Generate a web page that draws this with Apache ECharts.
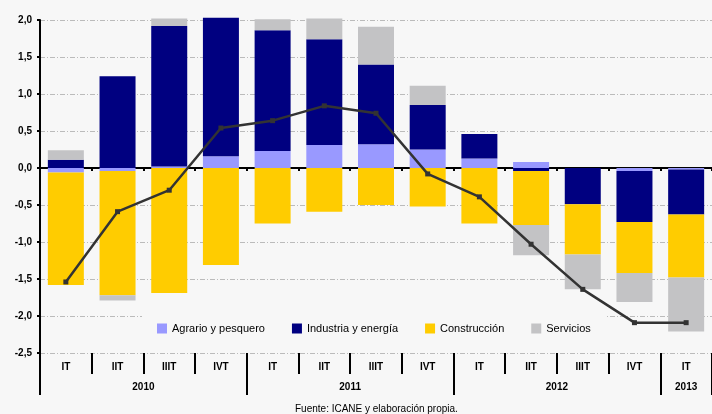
<!DOCTYPE html>
<html><head><meta charset="utf-8">
<script src="https://cdn.jsdelivr.net/npm/echarts@6/dist/echarts.min.js"></script>
<style>html,body{margin:0;padding:0;background:#f7f7f7}#c{width:712px;height:414px}</style>
</head><body><div id="c"></div>
<script>
const quarters = ['IT','IIT','IIIT','IVT','IT','IIT','IIIT','IVT','IT','IIT','IIIT','IVT','IT'];
const years = ['2010','2011','2012','2013'];
const yearSpans = [4,4,4,1];
const agrario      = [-0.06,-0.04, 0.02, 0.16, 0.23, 0.31, 0.32, 0.25, 0.13, 0.08, 0.00,-0.04,-0.02];
const industria    = [ 0.11, 1.24, 1.90, 1.87, 1.63, 1.43, 1.08, 0.60, 0.33,-0.04,-0.49,-0.69,-0.61];
const construccion = [-1.52,-1.68,-1.69,-1.31,-0.75,-0.59,-0.50,-0.52,-0.75,-0.73,-0.68,-0.69,-0.85];
const servicios    = [ 0.13,-0.07, 0.10, 0.00, 0.15, 0.28, 0.51, 0.26, 0.00,-0.41,-0.47,-0.39,-0.73];
const total        = [-1.54,-0.59,-0.30, 0.54, 0.64, 0.84, 0.74,-0.08,-0.39,-1.03,-1.64,-2.09,-2.09];
const yTicks = {min:-2.5, max:2.0, step:0.5};

// year boundaries and label centres derived from spans
const yearBounds = [0]; yearSpans.forEach(s => yearBounds.push(yearBounds[yearBounds.length-1] + s));
const yearCenters = yearSpans.map((s,i) => yearBounds[i] + s/2);

const font = 'Liberation Sans, Arial, sans-serif';
const chart = echarts.init(document.getElementById('c'));
const barBase = {type:'bar', stack:'a', barWidth:36, clip:false, xAxisIndex:0, yAxisIndex:0};
chart.setOption({
  backgroundColor:'#f7f7f7',
  animation:false,
  textStyle:{fontFamily:font},
  grid:{left:40, top:20, bottom:61, right:-8, containLabel:false},
  legend:{
    data:['Agrario y pesquero','Industria y energía','Construcción','Servicios'],
    left:142, top:312, padding:[11,15,11,15], itemGap:27, itemWidth:10, itemHeight:10,
    backgroundColor:'#f7f7f7', icon:'rect', z:5,
    textStyle:{fontSize:11, color:'#000', fontFamily:font}
  },
  title:{text:'Fuente: ICANE y elaboración propia.', left:290, top:399,
    textStyle:{fontSize:10, fontWeight:'normal', color:'#000', fontFamily:font}},
  xAxis:[
    {type:'category', data:quarters, position:'bottom',
     axisLine:{show:true, onZero:true, lineStyle:{color:'#000', width:2}},
     axisTick:{show:true, length:3, interval:0, lineStyle:{color:'#000', width:2}},
     axisLabel:{show:false}, splitLine:{show:false}},
    {type:'category', data:quarters, position:'bottom',
     axisLine:{show:false, onZero:false},
     axisTick:{show:true, length:21, interval:0, lineStyle:{color:'#000', width:2}},
     axisLabel:{show:true, interval:0, margin:9, fontSize:10, fontWeight:'bold', color:'#000', fontFamily:font},
     splitLine:{show:false}},
    {type:'value', min:0, max:quarters.length, position:'bottom',
     axisLine:{show:false, onZero:false},
     axisTick:{show:true, length:42, customValues:yearBounds, lineStyle:{color:'#000', width:2}},
     axisLabel:{show:true, customValues:yearCenters, margin:29, fontSize:10, fontWeight:'bold', color:'#000', fontFamily:font,
       formatter:v => { const i = yearCenters.indexOf(v); return i>=0 ? years[i] : ''; }},
     splitLine:{show:false}}
  ],
  yAxis:{type:'value', min:yTicks.min, max:yTicks.max, interval:yTicks.step,
    axisLine:{show:true, onZero:false, lineStyle:{color:'#000', width:2}},
    axisTick:{show:true, length:3, lineStyle:{color:'#000', width:2}},
    axisLabel:{margin:8, fontSize:10, fontWeight:'bold', color:'#000', fontFamily:font,
      formatter:v => v.toFixed(1).replace('.', ',')},
    splitLine:{show:true, lineStyle:{color:'#bbbbbb', type:[5,2,1,2], width:1}}},
  series:[
    Object.assign({name:'Agrario y pesquero', data:agrario, itemStyle:{color:'#9999ff'}}, barBase),
    Object.assign({name:'Industria y energía', data:industria, itemStyle:{color:'#000080'}}, barBase),
    Object.assign({name:'Construcción', data:construccion, itemStyle:{color:'#ffcc00'}}, barBase),
    Object.assign({name:'Servicios', data:servicios, itemStyle:{color:'#c3c3c5'}}, barBase),
    {name:'Total', type:'line', data:total, xAxisIndex:0, yAxisIndex:0, z:4,
     lineStyle:{color:'#333333', width:2.5}, itemStyle:{color:'#333333'},
     symbol:'rect', symbolSize:5, showSymbol:true}
  ]
});
</script></body></html>
